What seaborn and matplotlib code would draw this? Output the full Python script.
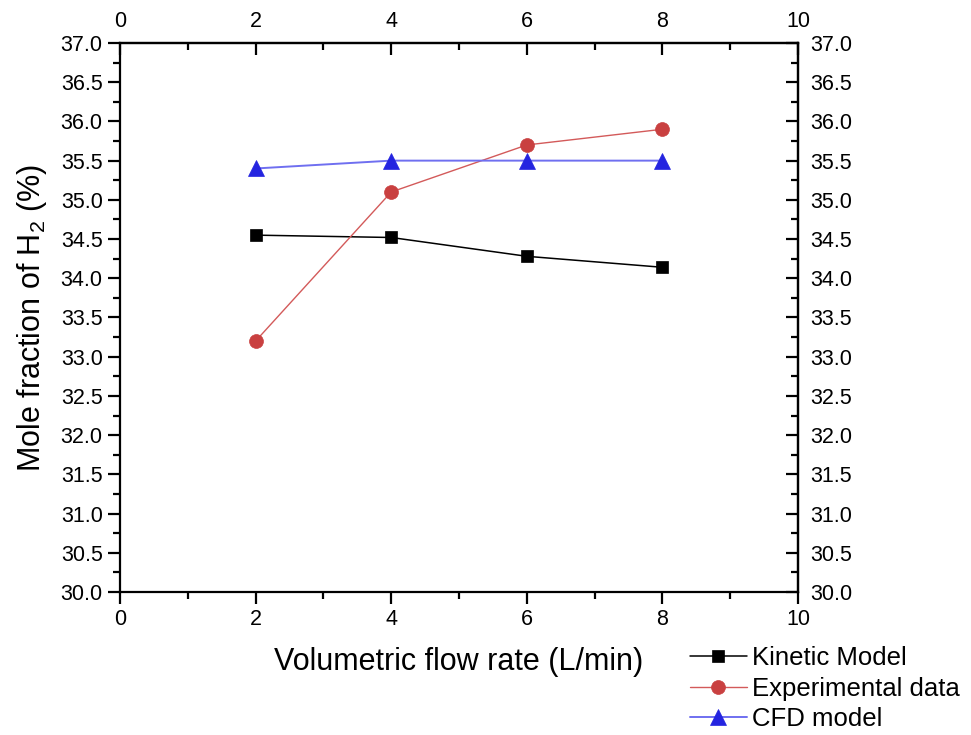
import matplotlib
matplotlib.use("Agg")
import matplotlib.pyplot as plt
import seaborn as sns
import pandas as pd
from matplotlib.ticker import MultipleLocator, FormatStrFormatter

# Data
flow_rate = [2, 4, 6, 8]
kinetic_model = [34.55, 34.52, 34.28, 34.14]
experimental = [33.2, 35.1, 35.7, 35.9]
cfd_model = [35.4, 35.5, 35.5, 35.5]
series_names = ["Kinetic Model", "Experimental data", "CFD model"]

sns.set_theme(style="white")
plt.rcParams["font.family"] = ["Liberation Sans", "DejaVu Sans"]
plt.rcParams["text.color"] = "black"
plt.rcParams["axes.labelcolor"] = "black"
plt.rcParams["mathtext.fontset"] = "custom"
plt.rcParams["mathtext.rm"] = "Liberation Sans"
plt.rcParams["mathtext.it"] = "Liberation Sans:italic"

fig = plt.figure(figsize=(9.71, 7.35), dpi=100)
ax = fig.add_axes([0.1236, 0.1946, 0.6983, 0.7469])

styles = [
    dict(line="#000000", face="#000000", marker="s", ms=9, lw=1.1),
    dict(line="#d35a5a", face="#c94040", marker="o", ms=10, lw=1.0),
    dict(line="#6f6ff0", face="#2424e0", marker="^", ms=11, lw=1.4),
]
for name, vals, st in zip(series_names, [kinetic_model, experimental, cfd_model], styles):
    df = pd.DataFrame({"flow": flow_rate, "h2": vals})
    sns.lineplot(data=df, x="flow", y="h2", ax=ax, color=st["line"], lw=st["lw"],
                 marker=st["marker"], markersize=st["ms"],
                 markerfacecolor=st["face"], markeredgecolor=st["face"],
                 markeredgewidth=0.5, label=name, legend=False)

ax.set_xlim(0, 10)
ax.set_ylim(30, 37)
ax.xaxis.set_major_locator(MultipleLocator(2))
ax.xaxis.set_minor_locator(MultipleLocator(1))
ax.yaxis.set_major_locator(MultipleLocator(0.5))
ax.yaxis.set_minor_locator(MultipleLocator(0.25))
ax.yaxis.set_major_formatter(FormatStrFormatter("%.1f"))

for sp in ax.spines.values():
    sp.set_visible(True)
    sp.set_color("black")
    sp.set_linewidth(1.6)

ax.tick_params(which="both", direction="out", color="black", width=1.6,
               labelsize=15.5, labelcolor="black", bottom=True, left=True)
ax.tick_params(which="major", length=8.5, pad=4)
ax.tick_params(which="minor", length=5)

# Mirror axes on top and right with inward ticks
top = ax.secondary_xaxis("top")
top.xaxis.set_major_locator(MultipleLocator(2))
top.xaxis.set_minor_locator(MultipleLocator(1))
right = ax.secondary_yaxis("right")
right.yaxis.set_major_locator(MultipleLocator(0.5))
right.yaxis.set_minor_locator(MultipleLocator(0.25))
right.yaxis.set_major_formatter(FormatStrFormatter("%.1f"))
for sec in (top, right):
    for sp in sec.spines.values():
        sp.set_linewidth(1.6)
        sp.set_color("black")
    sec.tick_params(which="both", direction="in", color="black", width=1.6,
                    labelsize=15.5, labelcolor="black")
    sec.tick_params(which="major", length=8.5)
    sec.tick_params(which="minor", length=5)
top.tick_params(pad=8)
right.tick_params(pad=9)

ax.set_xlabel("Volumetric flow rate (L/min)", fontsize=22, labelpad=12, color="black")
ax.set_ylabel(r"Mole fraction of H$_\mathregular{2}$ (%)", fontsize=22, labelpad=8,
              color="black")

handles, labels = ax.get_legend_handles_labels()
leg = fig.legend(handles, labels, loc="lower left", bbox_to_anchor=(0.7053, -0.002),
                 frameon=False, fontsize=18.5, handlelength=2.2, handletextpad=0.2,
                 labelspacing=0.25, borderaxespad=0.0, borderpad=0.2)
for t in leg.get_texts():
    t.set_color("black")

fig.savefig("out.png", dpi=100, facecolor="white")
